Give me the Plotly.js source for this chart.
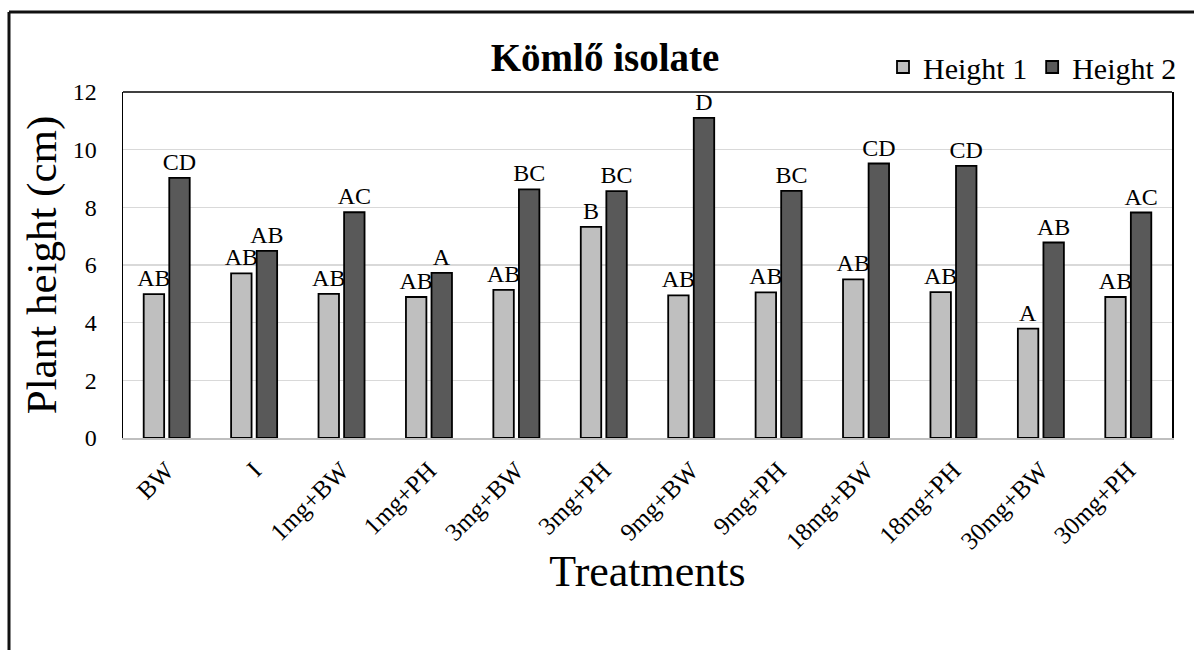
<!DOCTYPE html>
<html>
<head>
<meta charset="utf-8">
<script src="https://cdn.plot.ly/plotly-3.0.1.min.js"></script>
<style>
  html, body { margin: 0; padding: 0; background: #fff; }
  #chart { width: 1194px; height: 650px; }
</style>
</head>
<body>
<div id="chart"></div>
<script>
const categories = ["BW", "I", "1mg+BW", "1mg+PH", "3mg+BW", "3mg+PH", "9mg+BW", "9mg+PH", "18mg+BW", "18mg+PH", "30mg+BW", "30mg+PH"];
const height1 = [4.99, 5.71, 5.00, 4.89, 5.14, 7.32, 4.95, 5.05, 5.50, 5.06, 3.79, 4.89];
const height2 = [9.02, 6.49, 7.83, 5.73, 8.62, 8.56, 11.10, 8.57, 9.52, 9.44, 6.78, 7.82];
const letters1 = ["AB", "AB", "AB", "AB", "AB", "B", "AB", "AB", "AB", "AB", "A", "AB"];
const letters2 = ["CD", "AB", "AC", "A", "BC", "BC", "D", "BC", "CD", "CD", "AB", "AC"];
const yTicks = [0, 2, 4, 6, 8, 10, 12];

const serif = "Liberation Serif";

const traces = [
  {
    type: "bar", name: "Height 1", x: categories, y: height1,
    text: letters1, textposition: "outside", constraintext: "none", cliponaxis: false,
    textfont: { family: serif, size: 24, color: "#000" },
    marker: { color: "#bfbfbf", line: { color: "#000", width: 1.8 } }
  },
  {
    type: "bar", name: "Height 2", x: categories, y: height2,
    text: letters2, textposition: "outside", constraintext: "none", cliponaxis: false,
    textfont: { family: serif, size: 24, color: "#000" },
    marker: { color: "#595959", line: { color: "#000", width: 1.8 } }
  }
];

const L = 123, R = 22, T = 92, B = 212;
const W = 1194 - L - R, H = 650 - T - B;

const layout = {
  width: 1194, height: 650,
  margin: { l: L, r: R, t: T, b: B, autoexpand: false },
  paper_bgcolor: "#fff", plot_bgcolor: "#fff",
  font: { family: serif, color: "#000" },
  barmode: "group", bargap: 0.415, bargroupgap: 0.2,
  title: {
    text: "<b>Kömlő isolate</b>",
    font: { family: serif, size: 39, color: "#000" },
    x: 605 / 1194, xref: "container", xanchor: "center",
    y: 1 - 57 / 650, yref: "container", yanchor: "middle"
  },
  showlegend: true,
  legend: {
    orientation: "h",
    x: 1182 / 1194, xref: "container", xanchor: "right",
    y: 1 - 67 / 650, yref: "container", yanchor: "middle",
    font: { family: serif, size: 30, color: "#000" },
    bgcolor: "rgba(0,0,0,0)", itemwidth: 30, tracegroupgap: 0
  },
  xaxis: {
    type: "category",
    tickangle: -45,
    tickfont: { family: serif, size: 25, color: "#000" },
    showline: true, linecolor: "#bfbfbf", linewidth: 2,
    ticks: "", showgrid: false,
    ticklabelstandoff: 6,
    title: { text: "Treatments", font: { family: serif, size: 44, color: "#000" }, standoff: 2 },
    automargin: false
  },
  yaxis: {
    range: [0, 12],
    tickvals: yTicks,
    ticktext: yTicks.map(String),
    tickfont: { family: serif, size: 24, color: "#000" },
    showline: true, linecolor: "#000", linewidth: 1.5, mirror: true,
    ticks: "", showgrid: true, gridcolor: "#d9d9d9", gridwidth: 1.5,
    zeroline: false,
    ticklabelstandoff: 20,
    title: { text: "Plant height (cm)", font: { family: serif, size: 43, color: "#000" }, standoff: 2 },
    automargin: false
  },
  shapes: [
    { type: "line", xref: "paper", yref: "paper", x0: 0, x1: 1, y0: 1, y1: 1,
      line: { color: "#000", width: 1.5 } },
    { type: "line", xref: "paper", yref: "paper",
      x0: (9 - L) / W, x1: (9 - L) / W, y0: (438 - 12) / H, y1: -1.5,
      line: { color: "#111", width: 3 } },
    { type: "line", xref: "paper", yref: "paper",
      x0: (9 - L) / W, x1: 1.3, y0: (438 - 12) / H, y1: (438 - 12) / H,
      line: { color: "#111", width: 3 } }
  ]
};

Plotly.newPlot("chart", traces, layout, { displayModeBar: false, staticPlot: true });
</script>
</body>
</html>
